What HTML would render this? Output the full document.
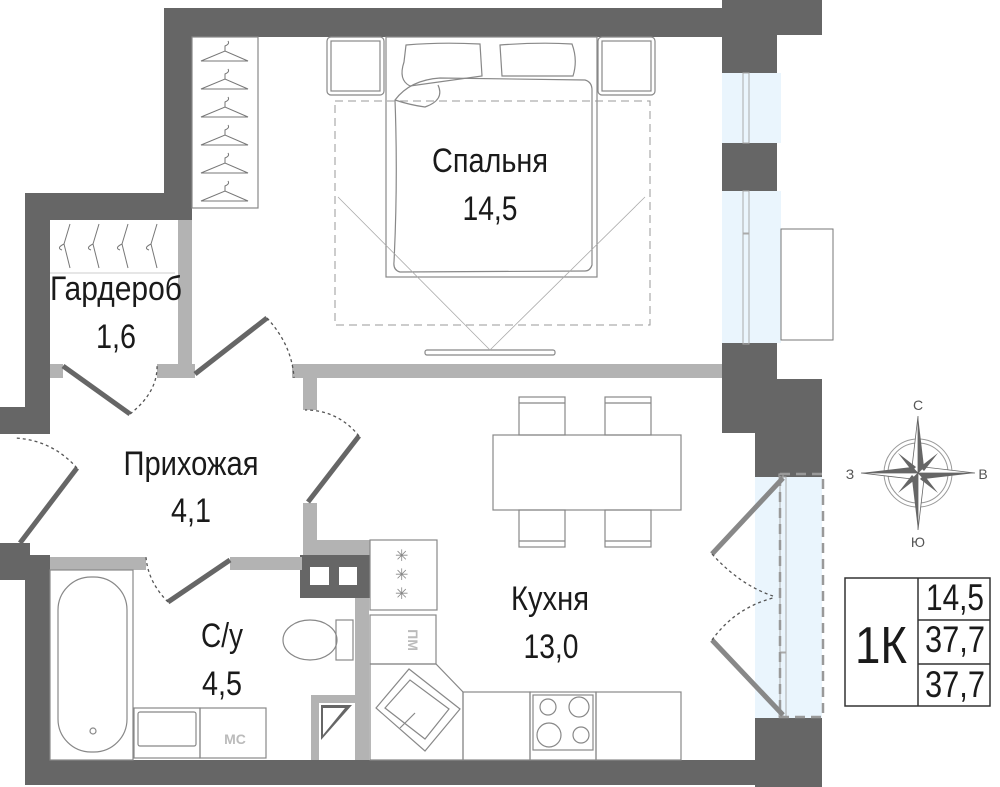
<!DOCTYPE html>
<html><head><meta charset="utf-8"><style>
html,body{margin:0;padding:0;background:#fff;}
svg{display:block;}
text{font-family:"Liberation Sans",sans-serif;fill:#1a1a1a;}
</style></head><body>
<svg width="1000" height="787" viewBox="0 0 1000 787" xmlns="http://www.w3.org/2000/svg">
<g fill="#eaf5fd">
<rect x="722" y="73" width="59" height="70"/>
<rect x="722" y="191" width="59" height="152"/>
<rect x="755" y="477" width="67" height="241"/>
</g>
<g fill="#666">
<rect x="164" y="8" width="560" height="29"/>
<rect x="722" y="0" width="100" height="35"/>
<rect x="722" y="0" width="55" height="73"/>
<rect x="722" y="143" width="55" height="48"/>
<rect x="722" y="343" width="55" height="45"/>
<rect x="722" y="379" width="100" height="54"/>
<rect x="755" y="379" width="67" height="98"/>
<rect x="755" y="718" width="67" height="69"/>
<rect x="164" y="8" width="28" height="212"/>
<rect x="25" y="193" width="167" height="27"/>
<rect x="25" y="193" width="25" height="240"/>
<rect x="0" y="407" width="50" height="27"/>
<rect x="0" y="543" width="30" height="37"/>
<rect x="25" y="555" width="25" height="230"/>
<rect x="25" y="760" width="797" height="25"/>
<rect x="300" y="555" width="70" height="43"/>
</g>
<rect x="310" y="567" width="19" height="18" fill="#fff"/>
<rect x="339" y="567" width="18" height="18" fill="#fff"/>
<g fill="#b3b3b3">
<rect x="178" y="220" width="14" height="148"/>
<rect x="50" y="364" width="13" height="14"/>
<rect x="157" y="364" width="38" height="14"/>
<rect x="292" y="364" width="430" height="14"/>
<rect x="303" y="364" width="14" height="46"/>
<rect x="303" y="503" width="14" height="52"/>
<rect x="303" y="540" width="67" height="15"/>
<rect x="50" y="557" width="96" height="13"/>
<rect x="230" y="557" width="72" height="13"/>
<rect x="355" y="598" width="14" height="162"/>
<rect x="311" y="695" width="44" height="65"/>
</g>
<rect x="319" y="703" width="36" height="57" fill="#fff"/>
<polygon points="321,705 352,705 321,740" fill="#666"/>
<polygon points="323,708 345,708 323,735" fill="#fff"/>
<g fill="none" stroke="#aaa" stroke-width="1">
<rect x="743" y="73" width="6" height="70"/>
<rect x="743" y="191" width="6" height="42"/>
<rect x="743" y="234" width="6" height="110"/>
<rect x="780" y="477" width="6" height="175"/>
<rect x="780" y="653" width="6" height="64"/>
<rect x="779" y="474" width="4" height="4"/>
<rect x="779" y="713" width="4" height="4"/>
</g>
<rect x="780" y="474" width="43" height="243" fill="none" stroke="#999" stroke-width="2.5" stroke-dasharray="10,6"/>
<rect x="781" y="229" width="52" height="111" fill="none" stroke="#777" stroke-width="1"/>
<g stroke="#666" stroke-width="5" stroke-linecap="butt">
<line x1="63" y1="366" x2="130" y2="414"/>
<line x1="195" y1="374" x2="267" y2="318"/>
<line x1="20" y1="543" x2="77" y2="468"/>
<line x1="308" y1="502" x2="359" y2="436"/>
<line x1="168" y1="602" x2="230" y2="560"/>
</g>
<g stroke="#888" stroke-width="5">
<line x1="712" y1="554" x2="783" y2="478"/>
<line x1="712" y1="640" x2="783" y2="715"/>
</g>
<g fill="none" stroke="#555" stroke-width="1.3" stroke-dasharray="3,3">
<path d="M130,414 Q158,392 157,365"/>
<path d="M267,318 Q292,345 294,378"/>
<path d="M77,468 Q52,440 15,438"/>
<path d="M359,436 Q338,410 305,410"/>
<path d="M168,602 Q148,582 146,557"/>
<path d="M712,554 Q740,585 773,596"/>
<path d="M712,640 Q735,608 773,598"/>
</g>
<g fill="none" stroke="#888" stroke-width="1.2">
<rect x="192" y="37" width="66" height="171"/>
<rect x="327" y="37" width="57" height="58" rx="4"/>
<rect x="331" y="41" width="49" height="50"/>
<rect x="598" y="37" width="57" height="58" rx="4"/>
<rect x="602" y="41" width="49" height="50"/>
<rect x="386" y="37" width="211" height="240"/>
<path d="M406,45 Q440,42 480,44 L482,76 L410,86 Q398,80 404,62 Z"/>
<path d="M500,45 Q540,42 572,44 Q578,60 573,76 L502,76 Z"/>
<path d="M395,100 Q410,80 440,78 L585,80 Q592,82 592,90 L592,265 Q590,271 585,271 L400,272 Q393,270 394,262 Q398,180 395,100 Z"/>
<path d="M395,100 Q410,105 425,107 Q445,100 438,85"/>
<rect x="134" y="708" width="66" height="50"/>
<rect x="138" y="712" width="58" height="34" rx="2"/>
<rect x="200" y="708" width="66" height="50"/>
<rect x="50" y="570" width="83" height="190"/>
<rect x="58" y="577" width="69" height="175" rx="33"/>
<circle cx="93" cy="731" r="3"/>
<ellipse cx="310" cy="640" rx="27" ry="20"/>
<rect x="336" y="620" width="17" height="40"/>
<rect x="370" y="540" width="67" height="70"/>
<rect x="370" y="615" width="66" height="49"/>
<polygon points="370,664 436,664 463,692 463,760 370,760"/>
<polygon points="376,708 409,669 460,709 425,751"/>
<polygon points="385,708 410,680 449,709 425,739"/>
<line x1="400" y1="728" x2="415" y2="713"/>
<rect x="463" y="692" width="67" height="68"/>
<rect x="530" y="692" width="66" height="68"/>
<rect x="533" y="695" width="60" height="55"/>
<circle cx="548" cy="707" r="8"/><circle cx="579" cy="707" r="10"/>
<circle cx="549" cy="735" r="12"/><circle cx="581" cy="735" r="8"/>
<rect x="596" y="692" width="85" height="68"/>
<rect x="493" y="435" width="188" height="75"/>
<rect x="519" y="397" width="46" height="38"/><line x1="519" y1="403" x2="565" y2="403"/>
<rect x="605" y="397" width="46" height="38"/><line x1="605" y1="403" x2="651" y2="403"/>
<rect x="519" y="510" width="46" height="37"/><line x1="519" y1="541" x2="565" y2="541"/>
<rect x="605" y="510" width="46" height="37"/><line x1="605" y1="541" x2="651" y2="541"/>
<rect x="425" y="350" width="130" height="5" rx="2"/>
</g>
<g fill="none" stroke="#999" stroke-width="1" stroke-dasharray="8,5">
<rect x="335" y="101" width="315" height="224"/>
</g>
<g stroke="#aaa" stroke-width="0.8" fill="none">
<line x1="338" y1="197" x2="490" y2="350"/>
<line x1="645" y1="197" x2="490" y2="350"/>
</g>
<g fill="none" stroke="#777" stroke-width="1">
<path d="M201,61 L225,51 L248,61 Z M225,51 L225,46 Q230,44 228,41"/>
<path d="M201,89 L225,79 L248,89 Z M225,79 L225,74 Q230,72 228,69"/>
<path d="M201,117 L225,107 L248,117 Z M225,107 L225,102 Q230,100 228,97"/>
<path d="M201,145 L225,135 L248,145 Z M225,135 L225,130 Q230,128 228,125"/>
<path d="M201,173 L225,163 L248,173 Z M225,163 L225,158 Q230,156 228,153"/>
<path d="M201,201 L225,191 L248,201 Z M225,191 L225,186 Q230,184 228,181"/>
<path d="M70,224 L64,244 L70,268 M64,244 Q56,248 62,250"/>
<path d="M99,224 L93,244 L99,268 M93,244 Q85,248 91,250"/>
<path d="M128,224 L122,244 L128,268 M122,244 Q114,248 120,250"/>
<path d="M157,224 L151,244 L157,268 M151,244 Q143,248 149,250"/>
<line x1="50" y1="273" x2="175" y2="273" stroke="#ccc"/>
</g>
<g font-size="16"><text x="395" y="561" style="fill:#888">✳</text><text x="395" y="580" style="fill:#888">✳</text><text x="395" y="599" style="fill:#888">✳</text></g>
<text x="408" y="640" font-size="14" font-weight="bold" style="fill:#bbb" transform="rotate(90 408 640)" text-anchor="middle">ПМ</text>
<text x="235" y="744" font-size="14" font-weight="bold" style="fill:#bbb" text-anchor="middle">МС</text>
<g font-size="34" text-anchor="middle">
<text x="490" y="172" textLength="116" lengthAdjust="spacingAndGlyphs">Спальня</text>
<text x="490" y="220" textLength="55" lengthAdjust="spacingAndGlyphs">14,5</text>
<text x="116" y="300" textLength="132" lengthAdjust="spacingAndGlyphs">Гардероб</text>
<text x="116" y="348" textLength="40" lengthAdjust="spacingAndGlyphs">1,6</text>
<text x="191" y="475" textLength="135" lengthAdjust="spacingAndGlyphs">Прихожая</text>
<text x="191" y="522" textLength="40" lengthAdjust="spacingAndGlyphs">4,1</text>
<text x="222" y="647" textLength="42" lengthAdjust="spacingAndGlyphs">С/у</text>
<text x="222" y="695" textLength="40" lengthAdjust="spacingAndGlyphs">4,5</text>
<text x="550" y="610" textLength="78" lengthAdjust="spacingAndGlyphs">Кухня</text>
<text x="551" y="658" textLength="55" lengthAdjust="spacingAndGlyphs">13,0</text>
</g>
<g transform="translate(918,473)">
<circle r="34" fill="none" stroke="#999" stroke-width="1"/>
<circle r="30" fill="none" stroke="#999" stroke-width="1"/>
<polygon points="0,-57 6,-6 0,0" fill="#666"/><polygon points="0,-57 -6,-6 0,0" fill="#fff" stroke="#666" stroke-width=".8"/>
<polygon points="0,57 -6,6 0,0" fill="#666"/><polygon points="0,57 6,6 0,0" fill="#fff" stroke="#666" stroke-width=".8"/>
<polygon points="57,0 6,6 0,0" fill="#666"/><polygon points="57,0 6,-6 0,0" fill="#fff" stroke="#666" stroke-width=".8"/>
<polygon points="-57,0 -6,-6 0,0" fill="#666"/><polygon points="-57,0 -6,6 0,0" fill="#fff" stroke="#666" stroke-width=".8"/>
<polygon points="-20,-20 -2,-6 -6,-2" fill="#666"/><polygon points="20,-20 6,-2 2,-6" fill="#666"/>
<polygon points="20,20 2,6 6,2" fill="#666"/><polygon points="-20,20 -6,2 -2,6" fill="#666"/>
</g>
<g font-size="14" text-anchor="middle">
<text x="918" y="410" style="fill:#555">С</text>
<text x="918" y="547" style="fill:#555">Ю</text>
<text x="850" y="479" style="fill:#555">З</text>
<text x="983" y="479" style="fill:#555">В</text>
</g>
<g fill="none" stroke="#333" stroke-width="1.5">
<rect x="845" y="578" width="145" height="128"/>
<line x1="918" y1="578" x2="918" y2="706"/>
<line x1="918" y1="620" x2="990" y2="620"/>
<line x1="918" y1="664" x2="990" y2="664"/>
</g>
<text x="881" y="663" font-size="52" text-anchor="middle" textLength="52" lengthAdjust="spacingAndGlyphs">1К</text>
<g font-size="37" text-anchor="middle">
<text x="955" y="610" textLength="58" lengthAdjust="spacingAndGlyphs">14,5</text>
<text x="955" y="652" textLength="60" lengthAdjust="spacingAndGlyphs">37,7</text>
<text x="955" y="697" textLength="60" lengthAdjust="spacingAndGlyphs">37,7</text>
</g>
</svg>
</body></html>
